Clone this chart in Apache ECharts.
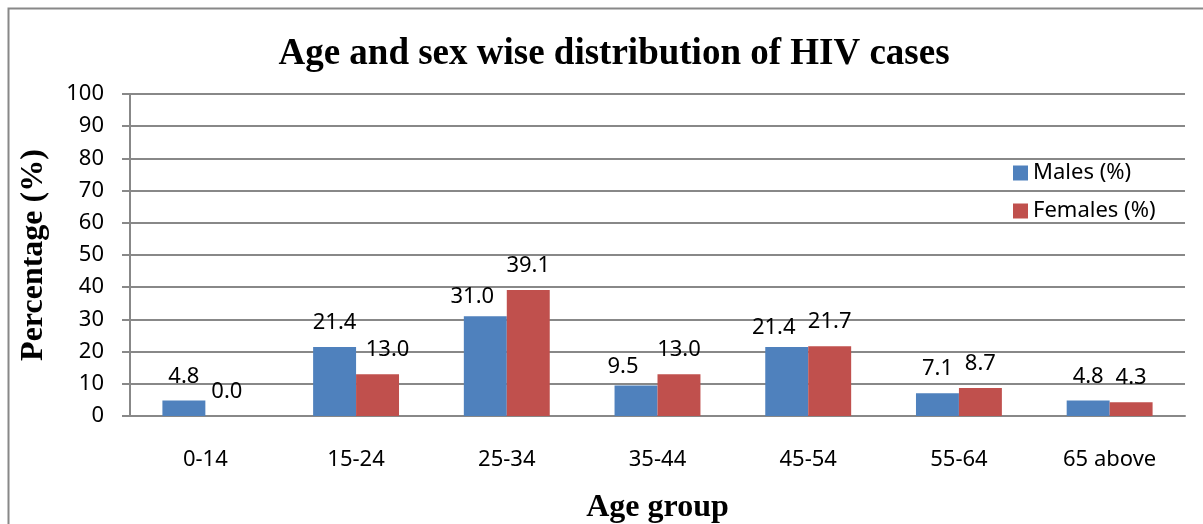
<!DOCTYPE html>
<html>
<head>
<meta charset="utf-8">
<script src="https://cdn.jsdelivr.net/npm/echarts@6/dist/echarts.min.js"></script>
<style>
  html, body { margin: 0; padding: 0; background: #fff; }
  #chart { width: 1203px; height: 524px; }
</style>
</head>
<body>
<div id="chart"></div>
<script>
// age groups and percentages
const ageGroups = ['0-14', '15-24', '25-34', '35-44', '45-54', '55-64', '65 above'];
const males = [4.8, 21.4, 31.0, 9.5, 21.4, 7.1, 4.8];
const females = [0.0, 13.0, 39.1, 13.0, 21.7, 8.7, 4.3];

const labelFont = { fontFamily: 'Noto Sans', fontSize: 22, color: '#000' };
const nameFont = { fontFamily: 'Liberation Serif', fontWeight: 'bold', fontSize: 32, color: '#000' };

// when a wide label of a pair sits at about the same height as its neighbour, nudge the lower one outward
function nudge(params) {
  const i = params.dataIndex;
  const m = males[i], f = females[i];
  const wide = m.toFixed(1).length > 3 || f.toFixed(1).length > 3;
  if (!wide || Math.abs(m - f) >= 10) return {};
  if (params.seriesIndex === 0 && m <= f) return { dx: -13, dy: 5 };
  if (params.seriesIndex === 1 && f < m) return { dx: 10, dy: 0 };
  return {};
}

const chart = echarts.init(document.getElementById('chart'));
chart.setOption({
  animation: false,
  title: {
    text: 'Age and sex wise distribution of HIV cases',
    left: 609, top: 31, textAlign: 'center',
    textStyle: { fontFamily: 'Liberation Serif', fontWeight: 'bold', fontSize: 37, color: '#000' }
  },
  graphic: [{
    type: 'rect',
    shape: { x: 8.5, y: 8.5, width: 1400, height: 800 },
    style: { fill: 'none', stroke: '#888', lineWidth: 2 },
    silent: true
  }],
  legend: {
    orient: 'vertical',
    left: 1008, top: 157,
    itemWidth: 15, itemHeight: 15, itemGap: 16,
    icon: 'rect',
    textStyle: { fontFamily: 'Noto Sans', fontSize: 22, color: '#000' },
    data: ['Males (%)', 'Females (%)']
  },
  grid: { left: 130, right: 18, top: 94, bottom: 108, outerBoundsMode: 'none' },
  xAxis: {
    type: 'category',
    data: ageGroups,
    axisLine: { lineStyle: { color: '#888', width: 2 } },
    axisTick: { show: false },
    axisLabel: Object.assign({ margin: 33 }, labelFont),
    name: 'Age group',
    nameLocation: 'middle',
    nameGap: 76,
    nameTextStyle: nameFont
  },
  yAxis: {
    type: 'value',
    min: 0, max: 100, interval: 10,
    axisLine: { show: true, lineStyle: { color: '#888', width: 2 } },
    axisTick: { show: true, length: 8, inside: false, lineStyle: { color: '#888', width: 2 } },
    splitLine: { lineStyle: { color: '#888', width: 2 } },
    axisLabel: Object.assign({ margin: 26 }, labelFont),
    name: 'Percentage (%)',
    nameLocation: 'middle',
    nameGap: 80,
    nameTextStyle: nameFont
  },
  series: [
    {
      name: 'Males (%)', type: 'bar', data: males,
      itemStyle: { color: '#4F81BD' },
      barGap: '0%', barCategoryGap: '43%',
      label: Object.assign({ show: true, position: 'top', distance: 13, formatter: p => p.value.toFixed(1) }, labelFont),
      labelLayout: nudge
    },
    {
      name: 'Females (%)', type: 'bar', data: females,
      itemStyle: { color: '#C0504D' },
      barGap: '0%', barCategoryGap: '43%',
      label: Object.assign({ show: true, position: 'top', distance: 13, formatter: p => p.value.toFixed(1) }, labelFont),
      labelLayout: nudge
    }
  ]
});
</script>
</body>
</html>
